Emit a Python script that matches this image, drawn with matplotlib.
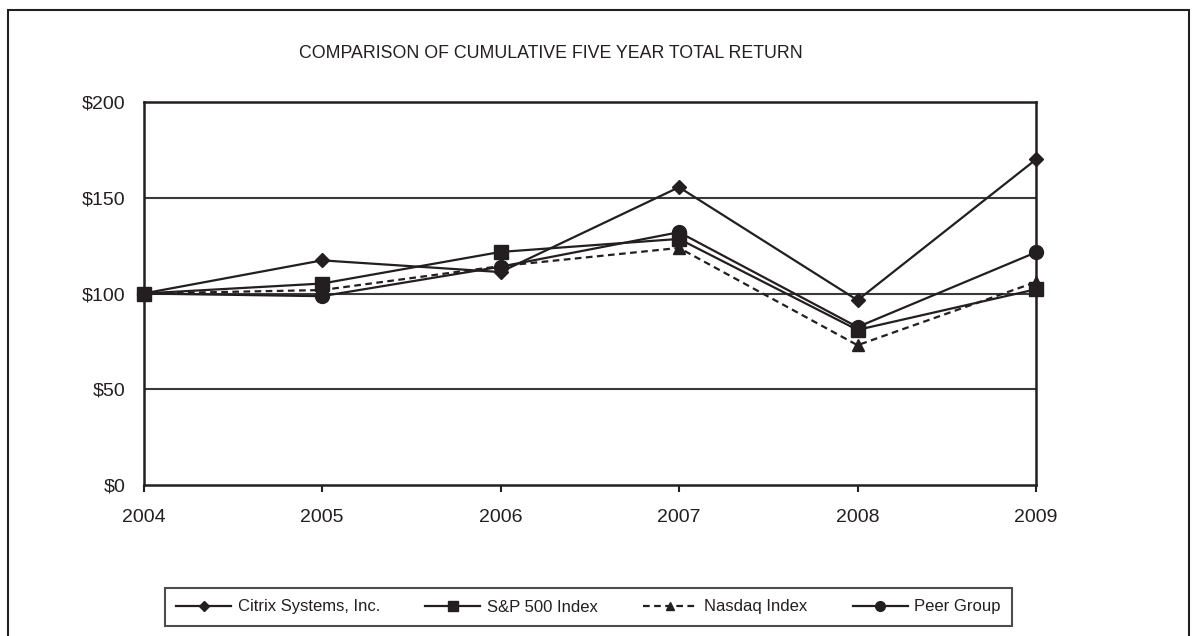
import matplotlib
matplotlib.use("Agg")
import matplotlib.pyplot as plt
from matplotlib.patches import Rectangle

years = ["2004", "2005", "2006", "2007", "2008", "2009"]
citrix = [100, 117.3, 111.2, 155.5, 96.5, 170.0]
sp500 = [100, 105.2, 121.7, 128.5, 81.0, 102.2]
nasdaq = [100, 101.8, 114.3, 123.8, 73.0, 106.0]
peer = [100, 98.6, 114.0, 132.0, 82.5, 121.5]
yticks = [0, 50, 100, 150, 200]
ytick_labels = ["$0", "$50", "$100", "$150", "$200"]

plt.rcParams['font.family'] = ['Liberation Sans', 'DejaVu Sans']
ink = "#231f20"

W, H = 1197, 636
fig = plt.figure(figsize=(W / 100, H / 100), dpi=100)
ax = fig.add_axes([143.5 / W, 1 - 485 / H, (1036 - 143.5) / W, (485 - 102) / H])

x = list(range(len(years)))
for v in (50, 100, 150):
    ax.axhline(v, color="#3a3a3a", lw=1.5, zorder=1)

common = dict(color=ink, lw=1.6, clip_on=False, zorder=3)
ax.plot(x, citrix, marker="D", markersize=7.5, label="Citrix Systems, Inc.", **common)
ax.plot(x, sp500, marker="s", markersize=9.5, label="S&P 500 Index", **common)
ax.plot(x, nasdaq, ls=(0, (3, 2)), marker="^", markersize=8.5, label="Nasdaq Index", **common)
ax.plot(x, peer, marker="o", markersize=10, label="Peer Group", **common)

ax.set_xlim(0, 5)
ax.set_ylim(0, 200)
ax.set_xticks(x)
ax.set_xticklabels(years, fontsize=14, color=ink)
ax.set_yticks(yticks)
ax.set_yticklabels(ytick_labels, fontsize=14, color=ink)
ax.tick_params(axis="x", direction="out", length=5, width=1.5, pad=12.5, color=ink)
ax.tick_params(axis="y", length=0, pad=13)
for s in ax.spines.values():
    s.set_color(ink)
    s.set_linewidth(1.8)

fig.text(551 / W, 1 - 53.5 / H, "COMPARISON OF CUMULATIVE FIVE YEAR TOTAL RETURN",
         ha="center", va="center", fontsize=12.8, color=ink)

leg = fig.legend(loc="center", bbox_to_anchor=(588.5 / W, 1 - 607 / H), ncol=4,
                 fontsize=12, frameon=True, fancybox=False, edgecolor=ink,
                 handlelength=3.3, columnspacing=2.7, handletextpad=0.4,
                 borderpad=0.7, borderaxespad=0, markerscale=0.7)
leg.get_frame().set_linewidth(1.5)
for t in leg.get_texts():
    t.set_color(ink)

fig.patches.append(Rectangle((8 / W, -0.02), (1189 - 8) / W, 1 - 10 / H + 0.02,
                             transform=fig.transFigure, fill=False,
                             edgecolor=ink, lw=1.5))

fig.savefig("out.png", dpi=100)
